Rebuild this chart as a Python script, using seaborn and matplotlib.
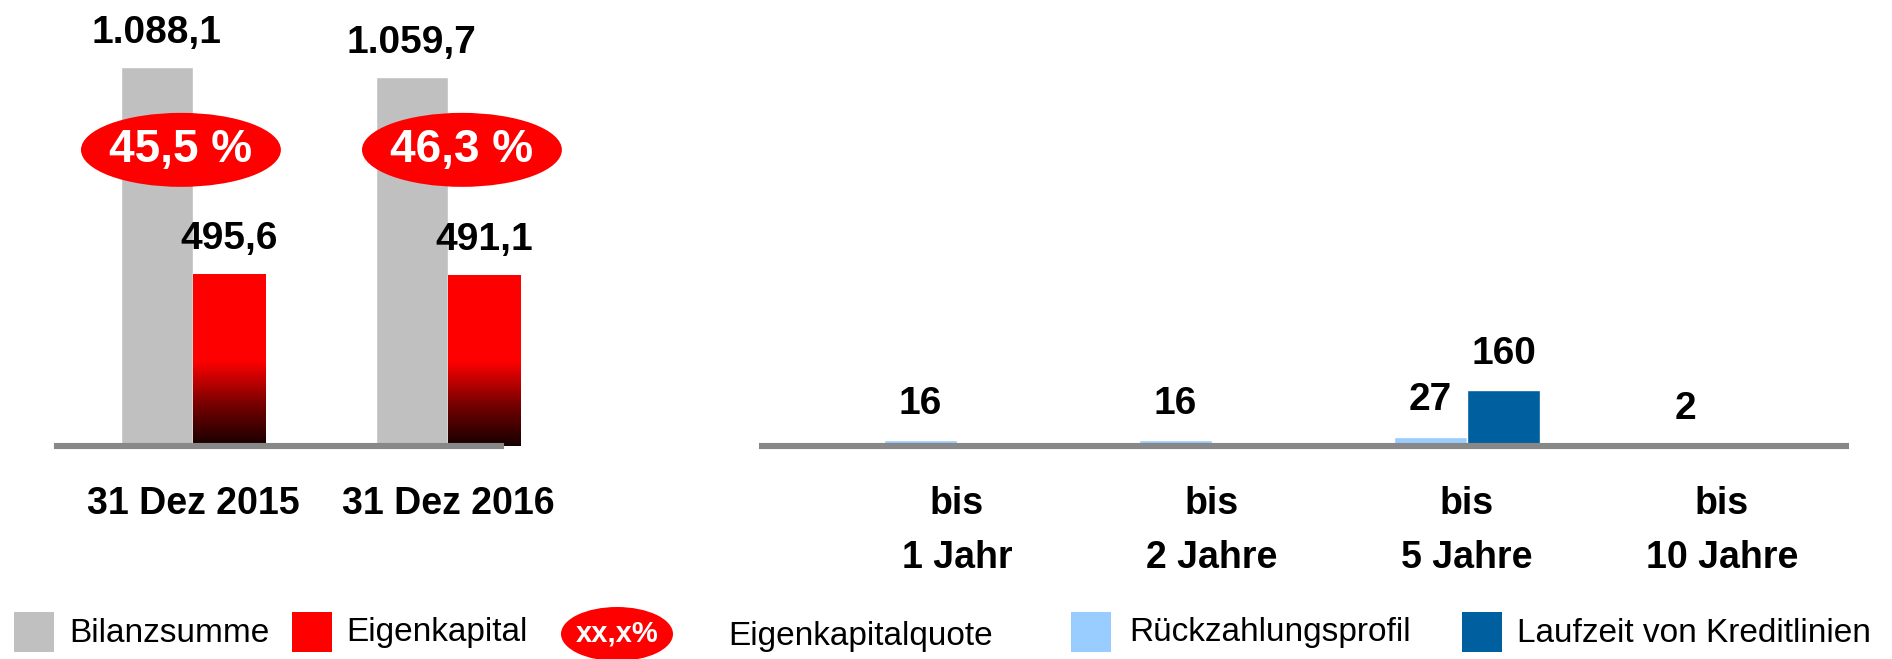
import numpy as np
import pandas as pd
import matplotlib
matplotlib.use('Agg')
import matplotlib.pyplot as plt
import matplotlib.transforms as mtransforms
from matplotlib.patches import Ellipse, Rectangle
from matplotlib.colors import LinearSegmentedColormap
import seaborn as sns

# Data
dates = ['31 Dez 2015', '31 Dez 2016']
bilanzsumme = [1088.1, 1059.7]
eigenkapital = [495.6, 491.1]
ek_quote = [45.5, 46.3]

laufzeiten = ['bis\n1 Jahr', 'bis\n2 Jahre', 'bis\n5 Jahre', 'bis\n10 Jahre']
rueckzahlung = [16, 16, 27, 2]
kreditlinien = [np.nan, np.nan, 160, np.nan]

# Colours
GRAY = '#C0C0C0'
RED = '#FF0000'
LIGHT_BLUE = '#99CCFF'
DARK_BLUE = '#005F9E'
AXIS_GRAY = '#888888'

sns.set_style('white')
plt.rcParams['font.family'] = ['Liberation Sans', 'DejaVu Sans']
plt.rcParams['text.color'] = 'black'
plt.rcParams['xtick.color'] = 'black'


def de_fmt(v, nd=1):
    s = f"{v:,.{nd}f}"
    return s.replace(',', 'X').replace('.', ',').replace('X', '.')


fig = plt.figure(figsize=(18.92, 6.59), dpi=100)
W, H = 1892, 659
base = 446  # pixel row of the axis line
ax_l = fig.add_axes([57 / W, (H - base) / H, (580 - 57) / W, base / H])
ax_r = fig.add_axes([762 / W, (H - base) / H, (1846 - 762) / W, base / H])
ymax = base / 0.348

# Left chart: Bilanzsumme / Eigenkapital
left_df = pd.DataFrame({
    'Datum': dates * 2,
    'Serie': ['Bilanzsumme'] * len(dates) + ['Eigenkapital'] * len(dates),
    'Wert': bilanzsumme + eigenkapital,
})
sns.barplot(data=left_df, x='Datum', y='Wert', hue='Serie', palette=[GRAY, RED],
            width=0.565, saturation=1, gap=0, legend=False, ax=ax_l)

# dark gradient at the bottom of the red bars
cmap = LinearSegmentedColormap.from_list('ek', ['#160000', '#7a0000', RED])
for bar in ax_l.containers[1]:
    x0, w, h = bar.get_x(), bar.get_width(), bar.get_height()
    grad = np.clip(np.linspace(0, h, 300) / 245, 0, 1)[:, None]
    im = ax_l.imshow(grad, cmap=cmap, vmin=0, vmax=1, origin='lower', aspect='auto',
                     extent=(x0, x0 + w, 0, h), zorder=1.5)
    im.set_clip_path(bar)

for bar in ax_l.patches:
    h = bar.get_height()
    ax_l.annotate(de_fmt(h), (bar.get_x() + bar.get_width() / 2, h), xytext=(0, 25),
                  textcoords='offset points', ha='center', va='center',
                  fontsize=28, fontweight='bold')

# Eigenkapitalquote bubbles
trans = mtransforms.blended_transform_factory(ax_l.transData, ax_l.transAxes)
bubble_shift = [-0.047, 0.055]
for i, q in enumerate(ek_quote):
    cx = i + bubble_shift[i]
    ax_l.add_patch(Ellipse((cx, 0.664), width=0.784, height=74 / base,
                           transform=trans, facecolor=RED, edgecolor='none', zorder=4))
    ax_l.text(cx, 0.664, de_fmt(q) + ' %', transform=trans, ha='center',
              va='center', color='white', fontsize=33, fontweight='bold', zorder=5)

ax_l.set_xlim(-0.533, 1.518)
ax_l.set_ylim(0, ymax)
ax_l.spines['bottom'].set_bounds(-0.533, 1.208)

# Right chart: Fälligkeiten
right_df = pd.DataFrame({
    'Laufzeit': laufzeiten * 2,
    'Serie': ['Rückzahlungsprofil'] * len(laufzeiten) + ['Laufzeit von Kreditlinien'] * len(laufzeiten),
    'Wert': rueckzahlung + kreditlinien,
})
sns.barplot(data=right_df, x='Laufzeit', y='Wert', hue='Serie',
            palette=[LIGHT_BLUE, DARK_BLUE], width=0.573, saturation=1, gap=0,
            legend=False, ax=ax_r)
for bar in ax_r.patches:
    h = bar.get_height()
    if not np.isfinite(h) or h == 0:
        continue
    ax_r.annotate(f"{h:.0f}", (bar.get_x() + bar.get_width() / 2, h), xytext=(0, 26),
                  textcoords='offset points', ha='center', va='center',
                  fontsize=28, fontweight='bold')
ax_r.set_xlim(-0.765, 3.486)
ax_r.set_ylim(0, ymax)

for ax in (ax_l, ax_r):
    sns.despine(ax=ax, left=True)
    ax.set_yticks([])
    ax.set_xlabel('')
    ax.set_ylabel('')
    ax.spines['bottom'].set_color(AXIS_GRAY)
    ax.spines['bottom'].set_linewidth(4.4)
    ax.tick_params(axis='x', length=0, pad=29, labelsize=27, labelcolor='black')
    for t in ax.get_xticklabels():
        t.set_fontweight('bold')
        t.set_linespacing(1.62)
    ax.patch.set_alpha(0)

# Legend along the bottom
leg = fig.add_axes([0, 0, 1, 1], zorder=-1)
leg.set_xlim(0, W)
leg.set_ylim(H, 0)
leg.axis('off')
ly = 632
for x0, col, label, tx in [(14, GRAY, 'Bilanzsumme', 69), (292, RED, 'Eigenkapital', 346),
                           (1071, LIGHT_BLUE, 'Rückzahlungsprofil', 1129),
                           (1462, DARK_BLUE, 'Laufzeit von Kreditlinien', 1517)]:
    leg.add_patch(Rectangle((x0, ly - 20), 40, 40, facecolor=col, edgecolor='none'))
    leg.text(tx, ly + 1, label, ha='left', va='center', fontsize=24)
leg.add_patch(Ellipse((617, ly + 2), 112, 54, facecolor=RED, edgecolor='none'))
leg.text(617, ly + 2, 'xx,x%', ha='center', va='center', color='white', fontsize=21,
         fontweight='bold')
leg.text(728, ly + 4, 'Eigenkapitalquote', ha='left', va='center', fontsize=24)

fig.savefig('out.png', dpi=100)
